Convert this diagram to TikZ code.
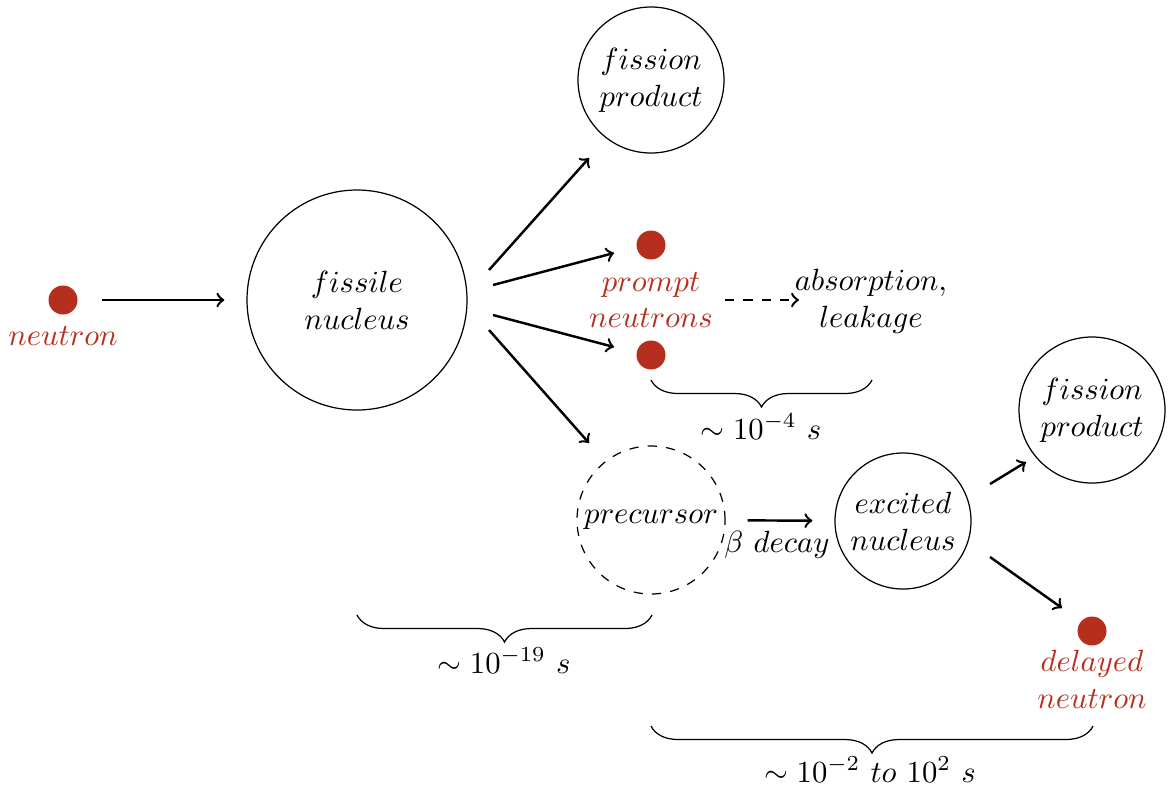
\documentclass[tikz,border=0pt]{standalone}
\usetikzlibrary{decorations.pathreplacing}
\definecolor{nred}{RGB}{182,46,30}
\def\un{0.326pt}
\begin{document}
\begin{tikzpicture}[x=\un,y=-\un,
  nuc/.style={draw, circle, inner sep=0pt, align=center},
  dot/.style={circle, fill=nred, inner sep=0pt, minimum size=29*\un},
  lbl/.style={align=center},
  arr/.style={->, thick},
  brc/.style={decorate, decoration={brace, mirror, amplitude=27*\un}}]
\useasboundingbox (0,0) rectangle (1169,787);
% nodes
\node[dot] (n0) at (63,300) {};
\node[anchor=base, text=nred] (n0l) at (63,345) {$neutron$};
\node[nuc, minimum size=220*\un] (fis) at (357,300) {$fissile$\\$nucleus$};
\node[nuc, minimum size=146*\un] (fp1) at (651,80) {$fission$\\$product$};
\node[dot] (p1) at (651,245) {};
\node[dot] (p2) at (651,355) {};
\node[lbl, text=nred] (pl) at (651,300) {$prompt$\\$neutrons$};
\node[lbl] (abs) at (871,301) {$absorption,$\\$leakage$};
\node[nuc, dashed, minimum size=148*\un] (pre) at (651,520) {$precursor$};
\node[nuc, minimum size=136*\un] (exc) at (903,521) {$excited$\\$nucleus$};
\node[nuc, minimum size=146*\un] (fp2) at (1092,410) {$fission$\\$product$};
\node[dot] (dn) at (1092,631) {};
\node[lbl, text=nred] (dnl) at (1092,679) {$delayed$\\$neutron$};
\node[anchor=base] (bd) at (777,552) {$\beta\ decay$};
% arrow end points
\coordinate (a1s) at (489,270); \coordinate (a1e) at (589,158);
\coordinate (a2s) at (493,285); \coordinate (a2e) at (614,253);
\coordinate (a3s) at (493,315); \coordinate (a3e) at (614,347);
\coordinate (a4s) at (489,330); \coordinate (a4e) at (589,443);
\coordinate (ds) at (725,300); \coordinate (de) at (799,300);
\coordinate (e1s) at (990,484); \coordinate (e1e) at (1026,462);
\coordinate (e2s) at (990,557); \coordinate (e2e) at (1062,608);
% connectors
\draw[arr, shorten <=24*\un, shorten >=22*\un] (n0) -- (fis);
\draw[arr] (a1s) -- (a1e);
\draw[arr] (a2s) -- (a2e);
\draw[arr] (a3s) -- (a3e);
\draw[arr] (a4s) -- (a4e);
\draw[arr, dashed] (ds) -- (de);
\draw[arr, shorten <=22*\un, shorten >=22*\un] (pre) -- (exc);
\draw[arr] (e1s) -- (e1e);
\draw[arr] (e2s) -- (e2e);
% braces
\draw[brc] (651,380) -- (872,380);
\draw[brc] (357,615) -- (652,615);
\draw[brc] (651,726) -- (1093,726);
\node[anchor=base] (t1) at (761,439) {$\sim 10^{-4}\ s$};
\node[anchor=base] (t2) at (504,673) {$\sim 10^{-19}\ s$};
\node[anchor=base] (t3) at (870,782) {$\sim 10^{-2}\ to\ 10^{2}\ s$};
\end{tikzpicture}
\end{document}
